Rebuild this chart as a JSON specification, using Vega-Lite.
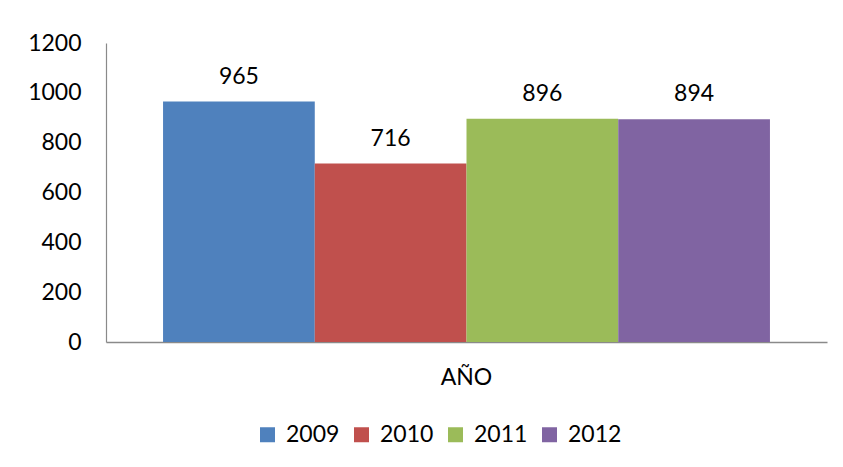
{
  "$schema": "https://vega.github.io/schema/vega-lite/v6.json",
  "autosize": "none",
  "padding": {"left": 106, "top": 43, "right": 16, "bottom": 125},
  "width": 721,
  "height": 299,
  "background": "white",
  "config": {
    "view": {"stroke": null},
    "font": "Lato",
    "text": {"font": "Lato"}
  },
  "data": {
    "values": [
      {"cat": "AÑO", "year": "2009", "value": 965},
      {"cat": "AÑO", "year": "2010", "value": 716},
      {"cat": "AÑO", "year": "2011", "value": 896},
      {"cat": "AÑO", "year": "2012", "value": 894}
    ]
  },
  "encoding": {
    "x": {
      "field": "cat",
      "type": "nominal",
      "scale": {"paddingInner": 0, "paddingOuter": 0.094},
      "axis": {
        "title": null,
        "labelAngle": 0,
        "ticks": false,
        "tickSize": 0,
        "labelPadding": 24,
        "labelFontSize": 23,
        "labelFont": "Lato",
        "labelColor": "#000000",
        "domainColor": "#8a8a8a",
        "domainWidth": 1.5
      }
    },
    "xOffset": {
      "field": "year",
      "type": "nominal",
      "scale": {"paddingInner": 0, "paddingOuter": 0}
    }
  },
  "layer": [
    {
      "mark": {"type": "bar"},
      "encoding": {
        "y": {
          "field": "value",
          "type": "quantitative",
          "scale": {"domain": [0, 1200]},
          "axis": {
            "title": null,
            "values": [0, 200, 400, 600, 800, 1000, 1200],
            "format": "d",
            "grid": false,
            "ticks": false,
            "tickSize": 0,
            "labelPadding": 25,
            "labelFontSize": 23,
            "labelFont": "Lato",
            "labelColor": "#000000",
            "domainColor": "#8a8a8a",
            "domainWidth": 1.2
          }
        },
        "color": {
          "field": "year",
          "type": "nominal",
          "scale": {
            "domain": ["2009", "2010", "2011", "2012"],
            "range": ["#4F81BD", "#C0504D", "#9BBB59", "#8064A2"]
          },
          "legend": {
            "title": null,
            "orient": "none",
            "direction": "horizontal",
            "legendX": 150,
            "legendY": 380,
            "padding": 0,
            "symbolType": "square",
            "symbolSize": 225,
            "symbolStrokeWidth": 0,
            "symbolOpacity": 1,
            "labelFontSize": 23,
            "labelFont": "Lato",
            "labelColor": "#000000",
            "labelOffset": 7,
            "columnPadding": 10
          }
        }
      }
    },
    {
      "mark": {"type": "text", "baseline": "alphabetic", "dy": -18, "fontSize": 23, "font": "Lato", "color": "#000000"},
      "encoding": {
        "y": {"field": "value", "type": "quantitative"},
        "text": {"field": "value", "type": "quantitative"}
      }
    }
  ]
}
